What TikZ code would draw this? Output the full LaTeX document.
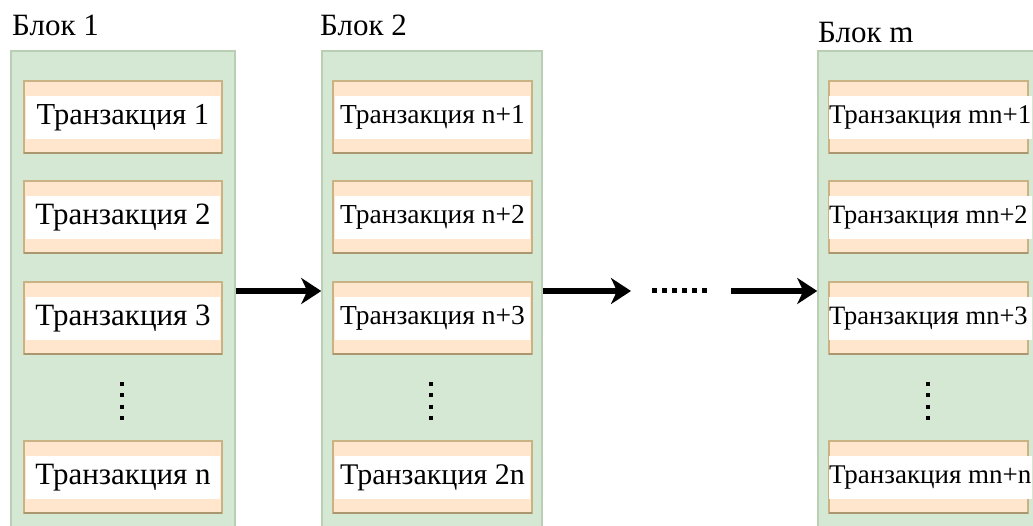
\documentclass[tikz,border=0pt]{standalone}
\usepackage{fontspec}
\setmainfont{Liberation Serif}
\usetikzlibrary{arrows.meta}
\definecolor{blkfill}{HTML}{D5E8D4}
\definecolor{blkdraw}{HTML}{B9CEB4}
\definecolor{txfill}{HTML}{FFE6CC}
\definecolor{txdraw}{HTML}{C9B283}
\tikzset{
  blockbox/.style={draw=blkdraw, fill=blkfill, line width=1.5pt, inner sep=0pt},
  txbox/.style={draw=txdraw, fill=txfill, line width=1.3pt, inner sep=0pt, minimum height=72pt},
  whitestrip/.style={fill=white, inner sep=0pt, minimum height=43pt},
  title/.style={anchor=west, inner sep=0pt, font=\fontsize{31}{34}\selectfont},
  flow/.style={line width=6.5pt, -{Stealth[length=20pt,width=26pt,inset=6pt]}},
  vdots/.style={line width=3.5pt, dash pattern=on 4pt off 7.3pt},
  hdots/.style={line width=5pt, dash pattern=on 5pt off 5pt},
}
\newcommand{\txn}[6]{% name, left x, right x, top y, text, font size
  \node[txbox, minimum width=#3pt-#2pt] (#1) at ({(#2+#3)/2},{#4+36}) {};
  \draw[txdraw!85!black, line width=2pt] ({#2},{#4+72}) -- ({#3},{#4+72});
  \node[whitestrip, minimum width=#3pt-#2pt-4pt] (#1w) at ({(#2+#3)/2},{#4+36.5}) {};
  \node[inner sep=0pt, font=\fontsize{#6}{#6}\selectfont] (#1t) at (#1w.center) {#5};
}
\newcommand{\txnl}[6]{% left-aligned text variant
  \node[txbox, minimum width=#3pt-#2pt] (#1) at ({(#2+#3)/2},{#4+36}) {};
  \draw[txdraw!85!black, line width=2pt] ({#2},{#4+72}) -- ({#3},{#4+72});
  \node[whitestrip, minimum width=#3pt-#2pt+4pt] (#1w) at ({(#2+#3)/2+2},{#4+36.5}) {};
  \node[inner sep=0pt, anchor=west, font=\fontsize{#6}{#6}\selectfont] (#1t) at (#1w.west) {#5};
}
\begin{document}
\begin{tikzpicture}[x=1pt,y=-1pt]
\useasboundingbox (0,0) rectangle (1033,525);
% blocks
\node[blockbox, minimum width=224pt, minimum height=480pt] (B1) at (123,291) {};
\node[blockbox, minimum width=220pt, minimum height=480pt] (B2) at (432,291) {};
\node[blockbox, minimum width=222pt, minimum height=480pt] (Bm) at (929,291) {};
% titles
\node[title] (T1) at (12,25) {Блок 1};
\node[title] (T2) at (320,25) {Блок 2};
\node[title] (Tm) at (818,33) {Блок m};
% block 1
\txn{a1}{24}{222}{81}{Транзакция 1}{30.5}
\txn{a2}{24}{222}{181}{Транзакция 2}{31}
\txn{a3}{24}{222}{282}{Транзакция 3}{31}
\txn{an}{24}{222}{441}{Транзакция n}{31}
\coordinate (d1a) at (122,382);
\coordinate (d1b) at (122,421);
\draw[vdots] (d1a) -- (d1b);
% block 2
\txn{b1}{333}{532}{81}{Транзакция n+1}{27.5}
\txn{b2}{333}{532}{181}{Транзакция n+2}{27.5}
\txn{b3}{333}{532}{282}{Транзакция n+3}{27.5}
\txn{bn}{333}{532}{441}{Транзакция 2n}{30}
\coordinate (d2a) at (431,382);
\coordinate (d2b) at (431,421);
\draw[vdots] (d2a) -- (d2b);
% block m
\txnl{c1}{829}{1028}{81}{Транзакция mn+1}{27}
\txnl{c2}{829}{1028}{181}{Транзакция mn+2}{26.5}
\txnl{c3}{829}{1028}{282}{Транзакция mn+3}{26.5}
\txnl{cn}{829}{1028}{441}{Транзакция mn+n}{27}
\coordinate (d3a) at (928,382);
\coordinate (d3b) at (928,421);
\draw[vdots] (d3a) -- (d3b);
% arrows
\coordinate (a2end) at (631,291);
\coordinate (h1) at (652,290);
\coordinate (h2) at (709,290);
\coordinate (a3start) at (731,291);
\draw[flow] (B1.east) -- (B2.west);
\draw[flow] (B2.east) -- (a2end);
\draw[hdots] (h1) -- (h2);
\draw[flow] (a3start) -- (Bm.west);
\end{tikzpicture}
\end{document}
